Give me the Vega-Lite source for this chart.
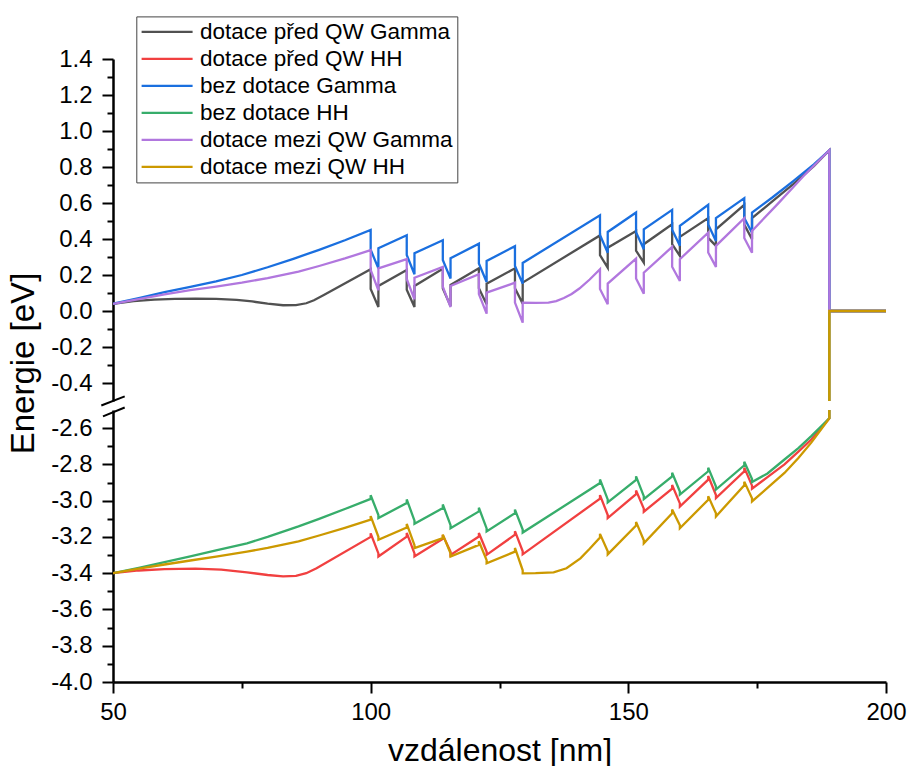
{
"$schema": "https://vega.github.io/schema/vega-lite/v6.json",
"padding": {"left": 7, "top": 15, "right": 0, "bottom": 0},
"config": {"view": {"stroke": null}, "font": "Liberation Sans",
 "axis": {"grid": false, "domainColor": "black", "tickColor": "black", "labelColor": "black", "titleColor": "black", "domainWidth": 2.5, "tickWidth": 2, "labelFontSize": 24, "labelFont": "Liberation Sans", "titleFont": "Liberation Sans", "titleFontWeight": "normal", "labelFlush": false, "labelOverlap": false},
 "legend": {"labelFont": "Liberation Sans"}},
"datasets": {
"d": [
{"s":"dotace před QW Gamma","x":50,"y":0.04},{"s":"dotace před QW Gamma","x":54,"y":0.055},{"s":"dotace před QW Gamma","x":58,"y":0.063},{"s":"dotace před QW Gamma","x":62,"y":0.067},{"s":"dotace před QW Gamma","x":66,"y":0.068},{"s":"dotace před QW Gamma","x":70,"y":0.067},{"s":"dotace před QW Gamma","x":74,"y":0.062},{"s":"dotace před QW Gamma","x":77,"y":0.053},{"s":"dotace před QW Gamma","x":80,"y":0.041},{"s":"dotace před QW Gamma","x":83,"y":0.032},{"s":"dotace před QW Gamma","x":85.5,"y":0.033},{"s":"dotace před QW Gamma","x":87.5,"y":0.043},{"s":"dotace před QW Gamma","x":89,"y":0.06},{"s":"dotace před QW Gamma","x":91,"y":0.09},
{"s":"dotace před QW Gamma","x":100,"y":0.232},{"s":"dotace před QW Gamma","x":100,"y":0.122},{"s":"dotace před QW Gamma","x":101.5,"y":0.022},{"s":"dotace před QW Gamma","x":101.5,"y":0.139},
{"s":"dotace před QW Gamma","x":107,"y":0.228},{"s":"dotace před QW Gamma","x":107,"y":0.118},{"s":"dotace před QW Gamma","x":108.5,"y":0.022},{"s":"dotace před QW Gamma","x":108.5,"y":0.139},
{"s":"dotace před QW Gamma","x":114,"y":0.235},{"s":"dotace před QW Gamma","x":114,"y":0.125},{"s":"dotace před QW Gamma","x":115.5,"y":0.028},{"s":"dotace před QW Gamma","x":115.5,"y":0.145},
{"s":"dotace před QW Gamma","x":121,"y":0.237},{"s":"dotace před QW Gamma","x":121,"y":0.127},{"s":"dotace před QW Gamma","x":122.5,"y":0.037},{"s":"dotace před QW Gamma","x":122.5,"y":0.152},
{"s":"dotace před QW Gamma","x":128,"y":0.237},{"s":"dotace před QW Gamma","x":128,"y":0.127},{"s":"dotace před QW Gamma","x":129.5,"y":0.041},{"s":"dotace před QW Gamma","x":129.5,"y":0.158},
{"s":"dotace před QW Gamma","x":144.5,"y":0.42},{"s":"dotace před QW Gamma","x":144.5,"y":0.31},{"s":"dotace před QW Gamma","x":146,"y":0.241},{"s":"dotace před QW Gamma","x":146,"y":0.352},
{"s":"dotace před QW Gamma","x":151.5,"y":0.445},{"s":"dotace před QW Gamma","x":151.5,"y":0.335},{"s":"dotace před QW Gamma","x":153,"y":0.269},{"s":"dotace před QW Gamma","x":153,"y":0.371},
{"s":"dotace před QW Gamma","x":158.5,"y":0.482},{"s":"dotace před QW Gamma","x":158.5,"y":0.372},{"s":"dotace před QW Gamma","x":160,"y":0.306},{"s":"dotace před QW Gamma","x":160,"y":0.412},
{"s":"dotace před QW Gamma","x":165.5,"y":0.516},{"s":"dotace před QW Gamma","x":165.5,"y":0.406},{"s":"dotace před QW Gamma","x":167,"y":0.362},{"s":"dotace před QW Gamma","x":167,"y":0.454},
{"s":"dotace před QW Gamma","x":172.5,"y":0.59},{"s":"dotace před QW Gamma","x":172.5,"y":0.48},{"s":"dotace před QW Gamma","x":174,"y":0.399},{"s":"dotace před QW Gamma","x":174,"y":0.516},
{"s":"dotace před QW Gamma","x":178,"y":0.61},{"s":"dotace před QW Gamma","x":182,"y":0.705},{"s":"dotace před QW Gamma","x":186,"y":0.805},{"s":"dotace před QW Gamma","x":189,"y":0.893},{"s":"dotace před QW Gamma","x":189,"y":0},{"s":"dotace před QW Gamma","x":200,"y":0},

{"s":"dotace před QW HH","x":50,"y":-3.4},{"s":"dotace před QW HH","x":55,"y":-3.385},{"s":"dotace před QW HH","x":60,"y":-3.377},{"s":"dotace před QW HH","x":66,"y":-3.375},{"s":"dotace před QW HH","x":71,"y":-3.38},{"s":"dotace před QW HH","x":76,"y":-3.395},{"s":"dotace před QW HH","x":80,"y":-3.41},{"s":"dotace před QW HH","x":83,"y":-3.418},{"s":"dotace před QW HH","x":85.5,"y":-3.415},{"s":"dotace před QW HH","x":87.5,"y":-3.4},{"s":"dotace před QW HH","x":89.5,"y":-3.373},{"s":"dotace před QW HH","x":100,"y":-3.2},
{"s":"dotace před QW HH","x":100,"y":-3.18},{"s":"dotace před QW HH","x":101.5,"y":-3.291},{"s":"dotace před QW HH","x":101.5,"y":-3.308},
{"s":"dotace před QW HH","x":107,"y":-3.198},{"s":"dotace před QW HH","x":107,"y":-3.178},{"s":"dotace před QW HH","x":108.5,"y":-3.291},{"s":"dotace před QW HH","x":108.5,"y":-3.308},
{"s":"dotace před QW HH","x":114,"y":-3.21},{"s":"dotace před QW HH","x":114,"y":-3.19},{"s":"dotace před QW HH","x":115.5,"y":-3.282},{"s":"dotace před QW HH","x":115.5,"y":-3.299},
{"s":"dotace před QW HH","x":121,"y":-3.198},{"s":"dotace před QW HH","x":121,"y":-3.178},{"s":"dotace před QW HH","x":122.5,"y":-3.282},{"s":"dotace před QW HH","x":122.5,"y":-3.299},
{"s":"dotace před QW HH","x":128,"y":-3.188},{"s":"dotace před QW HH","x":128,"y":-3.168},{"s":"dotace před QW HH","x":129.5,"y":-3.279},{"s":"dotace před QW HH","x":129.5,"y":-3.296},
{"s":"dotace před QW HH","x":144.5,"y":-2.989},{"s":"dotace před QW HH","x":144.5,"y":-2.969},{"s":"dotace před QW HH","x":146,"y":-3.079},{"s":"dotace před QW HH","x":146,"y":-3.096},
{"s":"dotace před QW HH","x":151.5,"y":-2.964},{"s":"dotace před QW HH","x":151.5,"y":-2.944},{"s":"dotace před QW HH","x":153,"y":-3.044},{"s":"dotace před QW HH","x":153,"y":-3.061},
{"s":"dotace před QW HH","x":158.5,"y":-2.934},{"s":"dotace před QW HH","x":158.5,"y":-2.914},{"s":"dotace před QW HH","x":160,"y":-3.015},{"s":"dotace před QW HH","x":160,"y":-3.032},
{"s":"dotace před QW HH","x":165.5,"y":-2.884},{"s":"dotace před QW HH","x":165.5,"y":-2.864},{"s":"dotace před QW HH","x":167,"y":-2.969},{"s":"dotace před QW HH","x":167,"y":-2.986},
{"s":"dotace před QW HH","x":172.5,"y":-2.838},{"s":"dotace před QW HH","x":172.5,"y":-2.818},{"s":"dotace před QW HH","x":174,"y":-2.917},{"s":"dotace před QW HH","x":174,"y":-2.934},
{"s":"dotace před QW HH","x":177,"y":-2.87},{"s":"dotace před QW HH","x":180.3,"y":-2.8},{"s":"dotace před QW HH","x":183,"y":-2.73},{"s":"dotace před QW HH","x":185.5,"y":-2.663},{"s":"dotace před QW HH","x":189,"y":-2.546},{"s":"dotace před QW HH","x":189,"y":0},{"s":"dotace před QW HH","x":200,"y":0},

{"s":"bez dotace Gamma","x":50,"y":0.04},{"s":"bez dotace Gamma","x":55,"y":0.072},{"s":"bez dotace Gamma","x":60,"y":0.105},{"s":"bez dotace Gamma","x":65,"y":0.134},{"s":"bez dotace Gamma","x":70,"y":0.165},{"s":"bez dotace Gamma","x":75,"y":0.2},{"s":"bez dotace Gamma","x":80,"y":0.243},{"s":"bez dotace Gamma","x":85,"y":0.29},{"s":"bez dotace Gamma","x":90,"y":0.34},{"s":"bez dotace Gamma","x":95,"y":0.393},{"s":"bez dotace Gamma","x":100,"y":0.45},
{"s":"bez dotace Gamma","x":100,"y":0.34},{"s":"bez dotace Gamma","x":101.5,"y":0.237},{"s":"bez dotace Gamma","x":101.5,"y":0.349},
{"s":"bez dotace Gamma","x":107,"y":0.421},{"s":"bez dotace Gamma","x":107,"y":0.311},{"s":"bez dotace Gamma","x":108.5,"y":0.204},{"s":"bez dotace Gamma","x":108.5,"y":0.321},
{"s":"bez dotace Gamma","x":114,"y":0.393},{"s":"bez dotace Gamma","x":114,"y":0.283},{"s":"bez dotace Gamma","x":115.5,"y":0.18},{"s":"bez dotace Gamma","x":115.5,"y":0.293},
{"s":"bez dotace Gamma","x":121,"y":0.374},{"s":"bez dotace Gamma","x":121,"y":0.264},{"s":"bez dotace Gamma","x":122.5,"y":0.161},{"s":"bez dotace Gamma","x":122.5,"y":0.278},
{"s":"bez dotace Gamma","x":128,"y":0.36},{"s":"bez dotace Gamma","x":128,"y":0.25},{"s":"bez dotace Gamma","x":129.5,"y":0.152},{"s":"bez dotace Gamma","x":129.5,"y":0.267},
{"s":"bez dotace Gamma","x":144.5,"y":0.532},{"s":"bez dotace Gamma","x":144.5,"y":0.422},{"s":"bez dotace Gamma","x":146,"y":0.324},{"s":"bez dotace Gamma","x":146,"y":0.439},
{"s":"bez dotace Gamma","x":151.5,"y":0.547},{"s":"bez dotace Gamma","x":151.5,"y":0.437},{"s":"bez dotace Gamma","x":153,"y":0.343},{"s":"bez dotace Gamma","x":153,"y":0.454},
{"s":"bez dotace Gamma","x":158.5,"y":0.562},{"s":"bez dotace Gamma","x":158.5,"y":0.452},{"s":"bez dotace Gamma","x":160,"y":0.362},{"s":"bez dotace Gamma","x":160,"y":0.473},
{"s":"bez dotace Gamma","x":165.5,"y":0.59},{"s":"bez dotace Gamma","x":165.5,"y":0.48},{"s":"bez dotace Gamma","x":167,"y":0.389},{"s":"bez dotace Gamma","x":167,"y":0.516},
{"s":"bez dotace Gamma","x":172.5,"y":0.627},{"s":"bez dotace Gamma","x":172.5,"y":0.517},{"s":"bez dotace Gamma","x":174,"y":0.435},{"s":"bez dotace Gamma","x":174,"y":0.547},
{"s":"bez dotace Gamma","x":178,"y":0.632},{"s":"bez dotace Gamma","x":182,"y":0.722},{"s":"bez dotace Gamma","x":186,"y":0.815},{"s":"bez dotace Gamma","x":189,"y":0.893},{"s":"bez dotace Gamma","x":189,"y":0},{"s":"bez dotace Gamma","x":200,"y":0},

{"s":"bez dotace HH","x":50,"y":-3.4},{"s":"bez dotace HH","x":55,"y":-3.37},{"s":"bez dotace HH","x":60,"y":-3.339},{"s":"bez dotace HH","x":65,"y":-3.307},{"s":"bez dotace HH","x":70,"y":-3.274},{"s":"bez dotace HH","x":76,"y":-3.235},{"s":"bez dotace HH","x":80,"y":-3.2},{"s":"bez dotace HH","x":86,"y":-3.142},{"s":"bez dotace HH","x":90,"y":-3.1},{"s":"bez dotace HH","x":95,"y":-3.046},{"s":"bez dotace HH","x":100,"y":-2.99},
{"s":"bez dotace HH","x":100,"y":-2.97},{"s":"bez dotace HH","x":101.5,"y":-3.079},{"s":"bez dotace HH","x":101.5,"y":-3.096},
{"s":"bez dotace HH","x":107,"y":-3.013},{"s":"bez dotace HH","x":107,"y":-2.993},{"s":"bez dotace HH","x":108.5,"y":-3.11},{"s":"bez dotace HH","x":108.5,"y":-3.127},
{"s":"bez dotace HH","x":114,"y":-3.041},{"s":"bez dotace HH","x":114,"y":-3.021},{"s":"bez dotace HH","x":115.5,"y":-3.135},{"s":"bez dotace HH","x":115.5,"y":-3.152},
{"s":"bez dotace HH","x":121,"y":-3.059},{"s":"bez dotace HH","x":121,"y":-3.039},{"s":"bez dotace HH","x":122.5,"y":-3.153},{"s":"bez dotace HH","x":122.5,"y":-3.17},
{"s":"bez dotace HH","x":128,"y":-3.069},{"s":"bez dotace HH","x":128,"y":-3.049},{"s":"bez dotace HH","x":129.5,"y":-3.159},{"s":"bez dotace HH","x":129.5,"y":-3.176},
{"s":"bez dotace HH","x":144.5,"y":-2.903},{"s":"bez dotace HH","x":144.5,"y":-2.883},{"s":"bez dotace HH","x":146,"y":-2.993},{"s":"bez dotace HH","x":146,"y":-3.01},
{"s":"bez dotace HH","x":151.5,"y":-2.886},{"s":"bez dotace HH","x":151.5,"y":-2.866},{"s":"bez dotace HH","x":153,"y":-2.975},{"s":"bez dotace HH","x":153,"y":-2.992},
{"s":"bez dotace HH","x":158.5,"y":-2.866},{"s":"bez dotace HH","x":158.5,"y":-2.846},{"s":"bez dotace HH","x":160,"y":-2.95},{"s":"bez dotace HH","x":160,"y":-2.967},
{"s":"bez dotace HH","x":165.5,"y":-2.838},{"s":"bez dotace HH","x":165.5,"y":-2.818},{"s":"bez dotace HH","x":167,"y":-2.922},{"s":"bez dotace HH","x":167,"y":-2.939},
{"s":"bez dotace HH","x":172.5,"y":-2.805},{"s":"bez dotace HH","x":172.5,"y":-2.785},{"s":"bez dotace HH","x":174,"y":-2.88},{"s":"bez dotace HH","x":174,"y":-2.897},
{"s":"bez dotace HH","x":177,"y":-2.85},{"s":"bez dotace HH","x":180.3,"y":-2.773},{"s":"bez dotace HH","x":183,"y":-2.71},{"s":"bez dotace HH","x":185.5,"y":-2.644},{"s":"bez dotace HH","x":189,"y":-2.546},{"s":"bez dotace HH","x":189,"y":0},{"s":"bez dotace HH","x":200,"y":0},

{"s":"dotace mezi QW Gamma","x":50,"y":0.04},{"s":"dotace mezi QW Gamma","x":55,"y":0.066},{"s":"dotace mezi QW Gamma","x":60,"y":0.093},{"s":"dotace mezi QW Gamma","x":65,"y":0.116},{"s":"dotace mezi QW Gamma","x":70,"y":0.135},{"s":"dotace mezi QW Gamma","x":75,"y":0.157},{"s":"dotace mezi QW Gamma","x":80,"y":0.183},{"s":"dotace mezi QW Gamma","x":86,"y":0.219},{"s":"dotace mezi QW Gamma","x":90,"y":0.25},{"s":"dotace mezi QW Gamma","x":95,"y":0.292},{"s":"dotace mezi QW Gamma","x":100,"y":0.338},
{"s":"dotace mezi QW Gamma","x":100,"y":0.228},{"s":"dotace mezi QW Gamma","x":101.5,"y":0.115},{"s":"dotace mezi QW Gamma","x":101.5,"y":0.237},
{"s":"dotace mezi QW Gamma","x":107,"y":0.288},{"s":"dotace mezi QW Gamma","x":107,"y":0.178},{"s":"dotace mezi QW Gamma","x":108.5,"y":0.065},{"s":"dotace mezi QW Gamma","x":108.5,"y":0.185},
{"s":"dotace mezi QW Gamma","x":114,"y":0.245},{"s":"dotace mezi QW Gamma","x":114,"y":0.135},{"s":"dotace mezi QW Gamma","x":115.5,"y":0.022},{"s":"dotace mezi QW Gamma","x":115.5,"y":0.139},
{"s":"dotace mezi QW Gamma","x":121,"y":0.204},{"s":"dotace mezi QW Gamma","x":121,"y":0.094},{"s":"dotace mezi QW Gamma","x":122.5,"y":-0.015},{"s":"dotace mezi QW Gamma","x":122.5,"y":0.102},
{"s":"dotace mezi QW Gamma","x":128,"y":0.157},{"s":"dotace mezi QW Gamma","x":128,"y":0.047},{"s":"dotace mezi QW Gamma","x":129.5,"y":-0.065},{"s":"dotace mezi QW Gamma","x":129.5,"y":0.046},
{"s":"dotace mezi QW Gamma","x":132,"y":0.045},{"s":"dotace mezi QW Gamma","x":134.5,"y":0.047},{"s":"dotace mezi QW Gamma","x":136,"y":0.055},{"s":"dotace mezi QW Gamma","x":137.5,"y":0.072},{"s":"dotace mezi QW Gamma","x":139,"y":0.095},{"s":"dotace mezi QW Gamma","x":140.5,"y":0.125},{"s":"dotace mezi QW Gamma","x":142.5,"y":0.175},{"s":"dotace mezi QW Gamma","x":144.5,"y":0.232},
{"s":"dotace mezi QW Gamma","x":144.5,"y":0.122},{"s":"dotace mezi QW Gamma","x":146,"y":0.037},{"s":"dotace mezi QW Gamma","x":146,"y":0.152},
{"s":"dotace mezi QW Gamma","x":151.5,"y":0.291},{"s":"dotace mezi QW Gamma","x":151.5,"y":0.181},{"s":"dotace mezi QW Gamma","x":153,"y":0.096},{"s":"dotace mezi QW Gamma","x":153,"y":0.213},
{"s":"dotace mezi QW Gamma","x":158.5,"y":0.356},{"s":"dotace mezi QW Gamma","x":158.5,"y":0.246},{"s":"dotace mezi QW Gamma","x":160,"y":0.167},{"s":"dotace mezi QW Gamma","x":160,"y":0.288},
{"s":"dotace mezi QW Gamma","x":165.5,"y":0.435},{"s":"dotace mezi QW Gamma","x":165.5,"y":0.325},{"s":"dotace mezi QW Gamma","x":167,"y":0.245},{"s":"dotace mezi QW Gamma","x":167,"y":0.362},
{"s":"dotace mezi QW Gamma","x":172.5,"y":0.516},{"s":"dotace mezi QW Gamma","x":172.5,"y":0.406},{"s":"dotace mezi QW Gamma","x":174,"y":0.324},{"s":"dotace mezi QW Gamma","x":174,"y":0.445},
{"s":"dotace mezi QW Gamma","x":179,"y":0.595},{"s":"dotace mezi QW Gamma","x":184,"y":0.75},{"s":"dotace mezi QW Gamma","x":189,"y":0.893},{"s":"dotace mezi QW Gamma","x":189,"y":0},{"s":"dotace mezi QW Gamma","x":200,"y":0},

{"s":"dotace mezi QW HH","x":50,"y":-3.4},{"s":"dotace mezi QW HH","x":55,"y":-3.375},{"s":"dotace mezi QW HH","x":60,"y":-3.352},{"s":"dotace mezi QW HH","x":65,"y":-3.33},{"s":"dotace mezi QW HH","x":70,"y":-3.308},{"s":"dotace mezi QW HH","x":76,"y":-3.281},{"s":"dotace mezi QW HH","x":80,"y":-3.261},{"s":"dotace mezi QW HH","x":86,"y":-3.225},{"s":"dotace mezi QW HH","x":90,"y":-3.192},{"s":"dotace mezi QW HH","x":95,"y":-3.15},{"s":"dotace mezi QW HH","x":100,"y":-3.105},
{"s":"dotace mezi QW HH","x":100,"y":-3.085},{"s":"dotace mezi QW HH","x":101.5,"y":-3.199},{"s":"dotace mezi QW HH","x":101.5,"y":-3.216},
{"s":"dotace mezi QW HH","x":107,"y":-3.148},{"s":"dotace mezi QW HH","x":107,"y":-3.128},{"s":"dotace mezi QW HH","x":108.5,"y":-3.245},{"s":"dotace mezi QW HH","x":108.5,"y":-3.262},
{"s":"dotace mezi QW HH","x":114,"y":-3.207},{"s":"dotace mezi QW HH","x":114,"y":-3.187},{"s":"dotace mezi QW HH","x":115.5,"y":-3.291},{"s":"dotace mezi QW HH","x":115.5,"y":-3.308},
{"s":"dotace mezi QW HH","x":121,"y":-3.244},{"s":"dotace mezi QW HH","x":121,"y":-3.224},{"s":"dotace mezi QW HH","x":122.5,"y":-3.328},{"s":"dotace mezi QW HH","x":122.5,"y":-3.345},
{"s":"dotace mezi QW HH","x":128,"y":-3.281},{"s":"dotace mezi QW HH","x":128,"y":-3.261},{"s":"dotace mezi QW HH","x":129.5,"y":-3.384},{"s":"dotace mezi QW HH","x":129.5,"y":-3.401},
{"s":"dotace mezi QW HH","x":132,"y":-3.4},{"s":"dotace mezi QW HH","x":135.5,"y":-3.395},{"s":"dotace mezi QW HH","x":138,"y":-3.373},{"s":"dotace mezi QW HH","x":140.7,"y":-3.318},{"s":"dotace mezi QW HH","x":142.5,"y":-3.265},{"s":"dotace mezi QW HH","x":144.5,"y":-3.203},
{"s":"dotace mezi QW HH","x":144.5,"y":-3.183},{"s":"dotace mezi QW HH","x":146,"y":-3.279},{"s":"dotace mezi QW HH","x":146,"y":-3.296},
{"s":"dotace mezi QW HH","x":151.5,"y":-3.137},{"s":"dotace mezi QW HH","x":151.5,"y":-3.117},{"s":"dotace mezi QW HH","x":153,"y":-3.218},{"s":"dotace mezi QW HH","x":153,"y":-3.235},
{"s":"dotace mezi QW HH","x":158.5,"y":-3.069},{"s":"dotace mezi QW HH","x":158.5,"y":-3.049},{"s":"dotace mezi QW HH","x":160,"y":-3.135},{"s":"dotace mezi QW HH","x":160,"y":-3.152},
{"s":"dotace mezi QW HH","x":165.5,"y":-2.995},{"s":"dotace mezi QW HH","x":165.5,"y":-2.975},{"s":"dotace mezi QW HH","x":167,"y":-3.07},{"s":"dotace mezi QW HH","x":167,"y":-3.087},
{"s":"dotace mezi QW HH","x":172.5,"y":-2.915},{"s":"dotace mezi QW HH","x":172.5,"y":-2.895},{"s":"dotace mezi QW HH","x":174,"y":-2.987},{"s":"dotace mezi QW HH","x":174,"y":-3.004},
{"s":"dotace mezi QW HH","x":177,"y":-2.93},{"s":"dotace mezi QW HH","x":180.3,"y":-2.847},{"s":"dotace mezi QW HH","x":183,"y":-2.765},{"s":"dotace mezi QW HH","x":185.5,"y":-2.68},{"s":"dotace mezi QW HH","x":189,"y":-2.546},{"s":"dotace mezi QW HH","x":189,"y":0},{"s":"dotace mezi QW HH","x":200,"y":0}
],
"brk": [{"x":47.73,"y":-2.475,"x2":52.27,"y2":-2.425},{"x":48.06,"y":-2.535,"x2":52.27,"y2":-2.486}]
},
"spacing": 9,
"bounds": "flush",
"resolve": {"scale": {"x": "independent", "y": "independent", "color": "independent"}, "legend": {"color": "independent"}},
"vconcat": [
{"width": 773, "height": 342,
 "data": {"name": "d"},
 "mark": {"type": "line", "clip": true, "strokeWidth": 2.3},
 "encoding": {
  "x": {"field": "x", "type": "quantitative", "scale": {"domain": [50, 200], "nice": false, "zero": false}, "axis": null},
  "y": {"field": "y", "type": "quantitative", "scale": {"domain": [-0.5, 1.4], "nice": false, "zero": false},
   "axis": {"values": [-0.4,-0.3,-0.2,-0.1,0,0.1,0.2,0.3,0.4,0.5,0.6,0.7,0.8,0.9,1,1.1,1.2,1.3,1.4],
    "labelExpr": "abs(round(datum.value*10)) % 2 == 0 ? replace(format(datum.value, '.1f'), '\u2212', '-') : ''",
    "tickSize": {"condition": {"test": "abs(round(datum.value*10)) % 2 == 0", "value": 11}, "value": 6},
    "labelPadding": 10,
    "title": "Energie [eV]", "titleFontSize": 33, "titleX": -80, "titleY": 304, "titleAlign": "center", "titleBaseline": "alphabetic", "titleAngle": -90}},
  "color": {"field": "s", "type": "nominal",
   "scale": {"domain": ["dotace před QW Gamma","dotace před QW HH","bez dotace Gamma","bez dotace HH","dotace mezi QW Gamma","dotace mezi QW HH"],
             "range": ["#515151","#F14040","#1A6FDF","#37AD6B","#B177DE","#CC9900"]},
   "legend": {"orient": "none", "legendX": 23.3, "legendY": -42.6, "title": null, "symbolType": "M-1,0H4", "symbolSize": 416, "symbolStrokeWidth": 2.3, "symbolFillColor": "transparent",
     "labelFont": "Liberation Sans", "labelFontSize": 22.5, "rowPadding": 4, "padding": 4, "strokeColor": "#444", "fillColor": "white", "labelOffset": 36.6, "labelLimit": 0, "labelColor": "black"}},
  "order": {"value": null}
 }},
{"width": 773, "height": 272,
 "encoding": {
  "x": {"field": "x", "type": "quantitative", "scale": {"domain": [50, 200], "nice": false, "zero": false},
   "axis": {"values": [50,75,100,125,150,175,200],
    "labelExpr": "datum.value % 50 == 0 ? datum.label : ''",
    "tickSize": {"condition": {"test": "datum.value % 50 == 0", "value": 11}, "value": 6},
    "labelPadding": 7,
    "title": "vzdálenost [nm]", "titleFontSize": 32, "titleY": 78, "titleBaseline": "alphabetic"}},
  "y": {"field": "y", "type": "quantitative", "scale": {"domain": [-4, -2.5], "nice": false, "zero": false},
   "axis": {"values": [-4,-3.9,-3.8,-3.7,-3.6,-3.5,-3.4,-3.3,-3.2,-3.1,-3,-2.9,-2.8,-2.7,-2.6],
    "labelExpr": "abs(round(datum.value*10)) % 2 == 0 ? replace(format(datum.value, '.1f'), '\u2212', '-') : ''",
    "tickSize": {"condition": {"test": "abs(round(datum.value*10)) % 2 == 0", "value": 11}, "value": 6},
    "labelPadding": 10, "title": null}}
 },
 "layer": [
  {"data": {"name": "d"},
   "mark": {"type": "line", "clip": true, "strokeWidth": 2.3},
   "encoding": {
    "color": {"field": "s", "type": "nominal",
     "scale": {"domain": ["dotace před QW Gamma","dotace před QW HH","bez dotace Gamma","bez dotace HH","dotace mezi QW Gamma","dotace mezi QW HH"],
               "range": ["#515151","#F14040","#1A6FDF","#37AD6B","#B177DE","#CC9900"]},
     "legend": null},
    "order": {"value": null}}},
  {"data": {"name": "brk"},
   "mark": {"type": "rule", "clip": false, "strokeWidth": 2, "color": "black"},
   "encoding": {"x2": {"field": "x2"}, "y2": {"field": "y2"}}}
 ]}
]
}
